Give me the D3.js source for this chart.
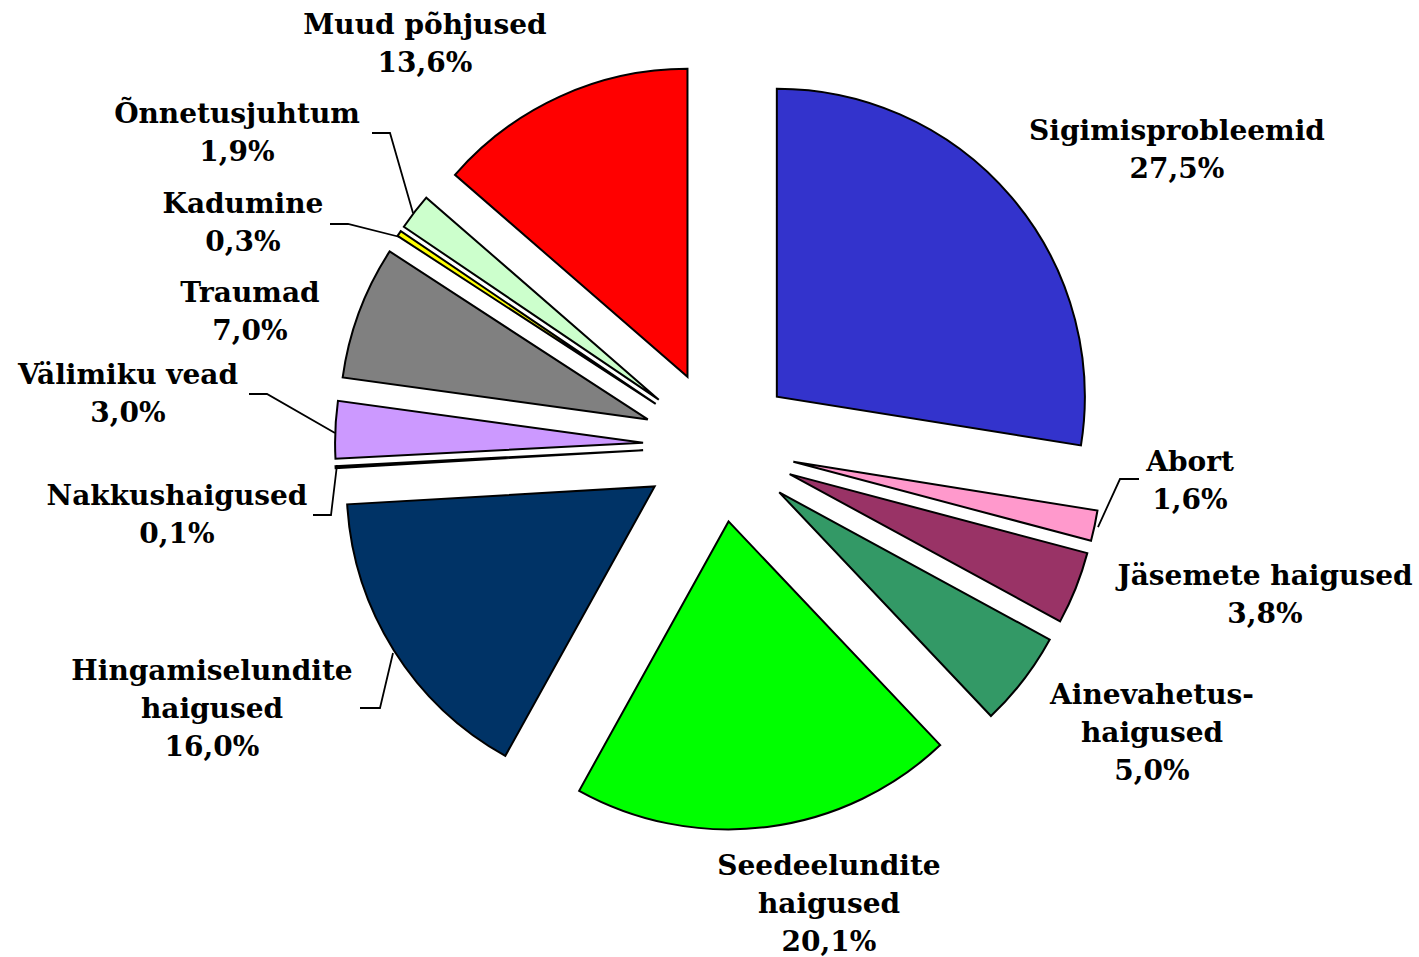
<!DOCTYPE html>
<html><head><meta charset="utf-8">
<script src="https://cdn.jsdelivr.net/npm/d3@7/dist/d3.min.js"></script>
<style>html,body{margin:0;padding:0;background:#fff;}</style>
</head><body>
<svg id="chart" width="1419" height="957"></svg>
<script>
// ---- data ----
const categories = ["Sigimisprobleemid","Abort","Jäsemete haigused","Ainevahetus-haigused","Seedeelundite haigused","Hingamiselundite haigused","Nakkushaigused","Välimiku vead","Traumad","Kadumine","Õnnetusjuhtum","Muud põhjused"];
const values = [27.5,1.6,3.8,5.0,20.1,16.0,0.1,3.0,7.0,0.3,1.9,13.6];
const labelLines = [
  ["Sigimisprobleemid"],["Abort"],["Jäsemete haigused"],["Ainevahetus-","haigused"],
  ["Seedeelundite","haigused"],["Hingamiselundite","haigused"],["Nakkushaigused"],
  ["Välimiku vead"],["Traumad"],["Kadumine"],["Õnnetusjuhtum"],["Muud põhjused"]
];
const colors = ["#3333CC","#FF99CC","#993366","#339966","#00FF00","#003366","#FFFFFF","#CC99FF","#808080","#FFFF00","#CCFFCC","#FF0000"];

// ---- layout ----
const W = 1419, H = 957;
const cx = 719, cy = 446, R = 308, explode = 76;
const fontSize = 28, lineH = 38;
// label centre (x, y of first line centre)
const labelPos = [
  [1177,130],[1190,461],[1265,575],[1152,694],[829,865],[212,670],
  [177,495],[128,374],[250,292],[243,203],[237,113],[425,24]
];
// leader lines (label-side elbow then to slice) for some labels
const leaders = {
  1: [[1139,479],[1120,479],[1098,527]],
  5: [[360,708],[380,708],[393,653]],
  6: [[313,515],[331,515],[337,465]],
  7: [[249,394],[267,394],[335,433]],
  9: [[330,224],[348,224],[400,237]],
  10:[[372,133],[390,133],[413,213]]
};

const fmt = v => d3.format(".1f")(v).replace(".", ",") + "%";

const svg = d3.select("#chart");
svg.append("rect").attr("width",W).attr("height",H).attr("fill","#fff");

const pie = d3.pie().sort(null).startAngle(0).endAngle(2*Math.PI).value(d => d);
const arcs = pie(values);
const arc = d3.arc().innerRadius(0).outerRadius(R);

const g = svg.append("g").attr("transform", `translate(${cx},${cy})`);
g.selectAll("path.slice").data(arcs).join("path")
  .attr("class","slice")
  .attr("d", arc)
  .attr("transform", d => {
    const a = (d.startAngle + d.endAngle)/2;
    return `translate(${explode*Math.sin(a)},${-explode*Math.cos(a)})`;
  })
  .attr("fill", (d,i) => colors[i])
  .attr("stroke", "#000")
  .attr("stroke-width", 2)
  .attr("stroke-linejoin","miter");

const line = d3.line();
Object.entries(leaders).forEach(([i, pts]) => {
  svg.append("path").attr("d", line(pts)).attr("fill","none")
    .attr("stroke","#000").attr("stroke-width",1.8);
});

const lg = svg.append("g")
  .attr("font-family","'DejaVu Serif', Georgia, serif")
  .attr("font-weight","bold")
  .attr("font-size", fontSize)
  .attr("fill","#000");
categories.forEach((c, i) => {
  const lines = labelLines[i].concat([fmt(values[i])]);
  const t = lg.append("text").attr("text-anchor","middle");
  lines.forEach((ln, k) => {
    t.append("tspan").attr("x", labelPos[i][0]).attr("y", labelPos[i][1] + k*lineH)
      .attr("dy","0.36em").text(ln);
  });
});
</script>
</body></html>
